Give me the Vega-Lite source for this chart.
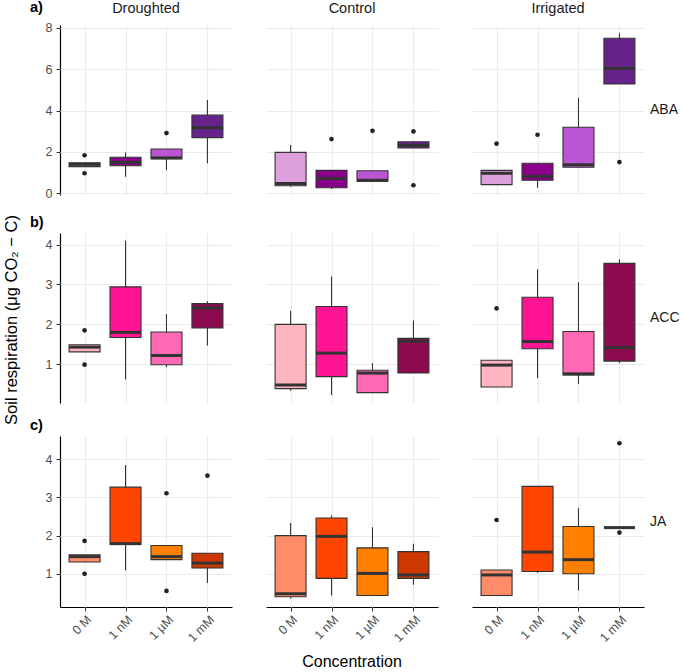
{
  "$schema": "https://vega.github.io/schema/vega-lite/v6.json",
  "padding": {"left": 3, "top": 0, "right": 0, "bottom": 1},
  "config": {
    "font": "Liberation Sans",
    "view": {"stroke": null},
    "axis": {"gridColor": "#ebebeb", "gridWidth": 1.1, "domainColor": "#000000", "tickColor": "#333333", "labelColor": "#4d4d4d", "labelFontSize": 12.5, "titleColor": "#000000", "titleFontSize": 16, "titleFontWeight": "normal"},
    "title": {"fontSize": 14.5, "fontWeight": "bold", "anchor": "start", "color": "#000000"}
  },
  "title": {"text": "Soil respiration (μg CO₂ − C)", "orient": "left", "anchor": "middle", "fontSize": 16.5, "fontWeight": "normal", "offset": 10, "dx": 15},
  "data": {"values": [
    {"hormone":"ABA","treatment":"Droughted","conc":"0 M","lower":1.29,"q1":1.29,"median":1.40,"q3":1.48,"upper":1.48},
    {"hormone":"ABA","treatment":"Droughted","conc":"0 M","outlier":1.84},
    {"hormone":"ABA","treatment":"Droughted","conc":"0 M","outlier":0.97},
    {"hormone":"ABA","treatment":"Droughted","conc":"1 nM","lower":0.80,"q1":1.33,"median":1.50,"q3":1.74,"upper":1.98},
    {"hormone":"ABA","treatment":"Droughted","conc":"1 µM","lower":1.11,"q1":1.67,"median":1.71,"q3":2.14,"upper":2.14},
    {"hormone":"ABA","treatment":"Droughted","conc":"1 µM","outlier":2.91},
    {"hormone":"ABA","treatment":"Droughted","conc":"1 mM","lower":1.45,"q1":2.69,"median":3.17,"q3":3.78,"upper":4.51},
    {"hormone":"ABA","treatment":"Control","conc":"0 M","lower":0.32,"q1":0.37,"median":0.48,"q3":1.98,"upper":2.33},
    {"hormone":"ABA","treatment":"Control","conc":"1 nM","lower":0.21,"q1":0.27,"median":0.72,"q3":1.11,"upper":1.11},
    {"hormone":"ABA","treatment":"Control","conc":"1 nM","outlier":2.62},
    {"hormone":"ABA","treatment":"Control","conc":"1 µM","lower":0.57,"q1":0.59,"median":0.63,"q3":1.09,"upper":1.09},
    {"hormone":"ABA","treatment":"Control","conc":"1 µM","outlier":3.02},
    {"hormone":"ABA","treatment":"Control","conc":"1 mM","lower":2.19,"q1":2.19,"median":2.32,"q3":2.49,"upper":2.49},
    {"hormone":"ABA","treatment":"Control","conc":"1 mM","outlier":2.99},
    {"hormone":"ABA","treatment":"Control","conc":"1 mM","outlier":0.39},
    {"hormone":"ABA","treatment":"Irrigated","conc":"0 M","lower":0.42,"q1":0.42,"median":0.97,"q3":1.11,"upper":1.11},
    {"hormone":"ABA","treatment":"Irrigated","conc":"0 M","outlier":2.40},
    {"hormone":"ABA","treatment":"Irrigated","conc":"1 nM","lower":0.27,"q1":0.63,"median":0.82,"q3":1.45,"upper":1.45},
    {"hormone":"ABA","treatment":"Irrigated","conc":"1 nM","outlier":2.83},
    {"hormone":"ABA","treatment":"Irrigated","conc":"1 µM","lower":1.26,"q1":1.26,"median":1.38,"q3":3.19,"upper":4.62},
    {"hormone":"ABA","treatment":"Irrigated","conc":"1 mM","lower":5.28,"q1":5.28,"median":6.04,"q3":7.49,"upper":7.73},
    {"hormone":"ABA","treatment":"Irrigated","conc":"1 mM","outlier":1.51},

    {"hormone":"ACC","treatment":"Droughted","conc":"0 M","lower":1.31,"q1":1.31,"median":1.43,"q3":1.49,"upper":1.49},
    {"hormone":"ACC","treatment":"Droughted","conc":"0 M","outlier":1.85},
    {"hormone":"ACC","treatment":"Droughted","conc":"0 M","outlier":0.99},
    {"hormone":"ACC","treatment":"Droughted","conc":"1 nM","lower":0.62,"q1":1.67,"median":1.80,"q3":2.94,"upper":4.10},
    {"hormone":"ACC","treatment":"Droughted","conc":"1 µM","lower":0.93,"q1":0.99,"median":1.22,"q3":1.81,"upper":2.26},
    {"hormone":"ACC","treatment":"Droughted","conc":"1 mM","lower":1.47,"q1":1.91,"median":2.41,"q3":2.52,"upper":2.58},
    {"hormone":"ACC","treatment":"Control","conc":"0 M","lower":0.34,"q1":0.39,"median":0.48,"q3":2.00,"upper":2.34},
    {"hormone":"ACC","treatment":"Control","conc":"1 nM","lower":0.23,"q1":0.69,"median":1.28,"q3":2.45,"upper":3.20},
    {"hormone":"ACC","treatment":"Control","conc":"1 µM","lower":0.29,"q1":0.29,"median":0.78,"q3":0.85,"upper":1.03},
    {"hormone":"ACC","treatment":"Control","conc":"1 mM","lower":0.78,"q1":0.78,"median":1.58,"q3":1.65,"upper":2.10},
    {"hormone":"ACC","treatment":"Irrigated","conc":"0 M","lower":0.43,"q1":0.43,"median":0.98,"q3":1.10,"upper":1.10},
    {"hormone":"ACC","treatment":"Irrigated","conc":"0 M","outlier":2.40},
    {"hormone":"ACC","treatment":"Irrigated","conc":"1 nM","lower":0.65,"q1":1.39,"median":1.57,"q3":2.68,"upper":3.38},
    {"hormone":"ACC","treatment":"Irrigated","conc":"1 µM","lower":0.51,"q1":0.73,"median":0.76,"q3":1.82,"upper":3.06},
    {"hormone":"ACC","treatment":"Irrigated","conc":"1 mM","lower":1.03,"q1":1.08,"median":1.42,"q3":3.53,"upper":3.63},

    {"hormone":"JA","treatment":"Droughted","conc":"0 M","lower":1.31,"q1":1.31,"median":1.45,"q3":1.50,"upper":1.50},
    {"hormone":"JA","treatment":"Droughted","conc":"0 M","outlier":1.86},
    {"hormone":"JA","treatment":"Droughted","conc":"0 M","outlier":1.00},
    {"hormone":"JA","treatment":"Droughted","conc":"1 nM","lower":1.09,"q1":1.77,"median":1.79,"q3":3.27,"upper":3.85},
    {"hormone":"JA","treatment":"Droughted","conc":"1 µM","lower":1.37,"q1":1.37,"median":1.45,"q3":1.74,"upper":1.74},
    {"hormone":"JA","treatment":"Droughted","conc":"1 µM","outlier":3.11},
    {"hormone":"JA","treatment":"Droughted","conc":"1 µM","outlier":0.55},
    {"hormone":"JA","treatment":"Droughted","conc":"1 mM","lower":0.76,"q1":1.15,"median":1.28,"q3":1.54,"upper":1.54},
    {"hormone":"JA","treatment":"Droughted","conc":"1 mM","outlier":3.57},
    {"hormone":"JA","treatment":"Control","conc":"0 M","lower":0.35,"q1":0.40,"median":0.48,"q3":2.00,"upper":2.33},
    {"hormone":"JA","treatment":"Control","conc":"1 nM","lower":0.43,"q1":0.88,"median":1.98,"q3":2.46,"upper":2.53},
    {"hormone":"JA","treatment":"Control","conc":"1 µM","lower":0.43,"q1":0.43,"median":1.01,"q3":1.68,"upper":2.22},
    {"hormone":"JA","treatment":"Control","conc":"1 mM","lower":0.71,"q1":0.88,"median":0.97,"q3":1.58,"upper":1.79},
    {"hormone":"JA","treatment":"Irrigated","conc":"0 M","lower":0.43,"q1":0.43,"median":0.97,"q3":1.10,"upper":1.10},
    {"hormone":"JA","treatment":"Irrigated","conc":"0 M","outlier":2.41},
    {"hormone":"JA","treatment":"Irrigated","conc":"1 nM","lower":1.02,"q1":1.06,"median":1.57,"q3":3.29,"upper":3.30},
    {"hormone":"JA","treatment":"Irrigated","conc":"1 µM","lower":0.56,"q1":1.00,"median":1.37,"q3":2.24,"upper":2.72},
    {"hormone":"JA","treatment":"Irrigated","conc":"1 mM","lower":2.21,"q1":2.21,"median":2.21,"q3":2.21,"upper":2.21},
    {"hormone":"JA","treatment":"Irrigated","conc":"1 mM","outlier":4.42},
    {"hormone":"JA","treatment":"Irrigated","conc":"1 mM","outlier":2.08}
  ]},
  "resolve": {"scale": {"x": "independent", "y": "independent", "color": "independent", "fill": "independent"}},
  "spacing": 14,
  "vconcat": [
    {
      "transform": [{"filter": "datum.hormone === 'ABA'"}],
      "title": {"text": "a)", "frame": "group", "dx": -30, "offset": -15},
      "facet": {
        "row": {"field": "hormone", "type": "nominal", "header": {"title": null, "labelOrient": "right", "labelAngle": 0, "labelFontSize": 14, "labelColor": "#1a1a1a", "labelPadding": 6}},
        "column": {"field": "treatment", "type": "nominal", "sort": ["Droughted", "Control", "Irrigated"], "header": {"title": null, "labelFontSize": 14.5, "labelColor": "#1a1a1a", "labelPadding": 9}}
      },
      "spacing": {"column": 34, "row": 0},
      "spec": {
        "width": 172, "height": 170,
        "encoding": {"x": {"field": "conc", "type": "nominal", "scale": {"type": "point", "domain": ["0 M", "1 nM", "1 µM", "1 mM"], "padding": 0.6}, "axis": {"labels": false, "ticks": false, "domain": false, "title": null, "grid": true, "minExtent": 0, "maxExtent": 0}}},
        "layer": [
          {"transform": [{"filter": "datum.q1 != null"}], "mark": {"type": "rule", "color": "#333333", "strokeWidth": 1.1},
           "encoding": {"y": {"field": "lower", "type": "quantitative", "scale": {"domain": [-0.08, 8.13], "nice": false, "zero": false}, "axis": {"values": [0, 2, 4, 6, 8], "tickSize": 4, "labelPadding": 4, "domainWidth": 1.2, "title": null, "minExtent": 20, "maxExtent": 20}}, "y2": {"field": "upper"}}},
          {"transform": [{"filter": "datum.q1 != null"}], "mark": {"type": "bar", "size": 31, "stroke": "#333333", "strokeWidth": 1.1},
           "encoding": {"y": {"field": "q1", "type": "quantitative", "scale": {"domain": [-0.08, 8.13], "nice": false, "zero": false}, "axis": {"values": [0, 2, 4, 6, 8], "tickSize": 4, "labelPadding": 4, "domainWidth": 1.2, "title": null, "minExtent": 20, "maxExtent": 20}}, "y2": {"field": "q3"},
             "fill": {"field": "conc", "type": "nominal", "scale": {"domain": ["0 M", "1 nM", "1 µM", "1 mM"], "range": ["#DDA0DD", "#8B008B", "#BA55D3", "#68228B"]}, "legend": null}}},
          {"transform": [{"filter": "datum.q1 != null"}], "mark": {"type": "tick", "size": 31, "thickness": 3, "color": "#333333", "opacity": 1},
           "encoding": {"y": {"field": "median", "type": "quantitative", "scale": {"domain": [-0.08, 8.13], "nice": false, "zero": false}, "axis": {"values": [0, 2, 4, 6, 8], "tickSize": 4, "labelPadding": 4, "domainWidth": 1.2, "title": null, "minExtent": 20, "maxExtent": 20}}}},
          {"transform": [{"filter": "datum.outlier != null"}], "mark": {"type": "point", "filled": true, "size": 22, "color": "#222222", "opacity": 1},
           "encoding": {"y": {"field": "outlier", "type": "quantitative", "scale": {"domain": [-0.08, 8.13], "nice": false, "zero": false}, "axis": {"values": [0, 2, 4, 6, 8], "tickSize": 4, "labelPadding": 4, "domainWidth": 1.2, "title": null, "minExtent": 20, "maxExtent": 20}}}}
        ]
      }
    },
    {
      "transform": [{"filter": "datum.hormone === 'ACC'"}],
      "title": {"text": "b)", "frame": "group", "dx": -30, "offset": 3},
      "facet": {
        "row": {"field": "hormone", "type": "nominal", "header": {"title": null, "labelOrient": "right", "labelAngle": 0, "labelFontSize": 14, "labelColor": "#1a1a1a", "labelPadding": 6}},
        "column": {"field": "treatment", "type": "nominal", "sort": ["Droughted", "Control", "Irrigated"], "header": {"title": null, "labels": false}}
      },
      "spacing": {"column": 34, "row": 0},
      "spec": {
        "width": 172, "height": 170,
        "encoding": {"x": {"field": "conc", "type": "nominal", "scale": {"type": "point", "domain": ["0 M", "1 nM", "1 µM", "1 mM"], "padding": 0.6}, "axis": {"labels": false, "ticks": false, "domain": false, "title": null, "grid": true, "minExtent": 0, "maxExtent": 0}}},
        "layer": [
          {"transform": [{"filter": "datum.q1 != null"}], "mark": {"type": "rule", "color": "#333333", "strokeWidth": 1.1},
           "encoding": {"y": {"field": "lower", "type": "quantitative", "scale": {"domain": [0.03, 4.29], "nice": false, "zero": false}, "axis": {"values": [1, 2, 3, 4], "tickSize": 4, "labelPadding": 4, "domainWidth": 1.2, "title": null, "minExtent": 20, "maxExtent": 20}}, "y2": {"field": "upper"}}},
          {"transform": [{"filter": "datum.q1 != null"}], "mark": {"type": "bar", "size": 31, "stroke": "#333333", "strokeWidth": 1.1},
           "encoding": {"y": {"field": "q1", "type": "quantitative", "scale": {"domain": [0.03, 4.29], "nice": false, "zero": false}, "axis": {"values": [1, 2, 3, 4], "tickSize": 4, "labelPadding": 4, "domainWidth": 1.2, "title": null, "minExtent": 20, "maxExtent": 20}}, "y2": {"field": "q3"},
             "fill": {"field": "conc", "type": "nominal", "scale": {"domain": ["0 M", "1 nM", "1 µM", "1 mM"], "range": ["#FFB6C1", "#FF1493", "#FF69B4", "#8B0A50"]}, "legend": null}}},
          {"transform": [{"filter": "datum.q1 != null"}], "mark": {"type": "tick", "size": 31, "thickness": 3, "color": "#333333", "opacity": 1},
           "encoding": {"y": {"field": "median", "type": "quantitative", "scale": {"domain": [0.03, 4.29], "nice": false, "zero": false}, "axis": {"values": [1, 2, 3, 4], "tickSize": 4, "labelPadding": 4, "domainWidth": 1.2, "title": null, "minExtent": 20, "maxExtent": 20}}}},
          {"transform": [{"filter": "datum.outlier != null"}], "mark": {"type": "point", "filled": true, "size": 22, "color": "#222222", "opacity": 1},
           "encoding": {"y": {"field": "outlier", "type": "quantitative", "scale": {"domain": [0.03, 4.29], "nice": false, "zero": false}, "axis": {"values": [1, 2, 3, 4], "tickSize": 4, "labelPadding": 4, "domainWidth": 1.2, "title": null, "minExtent": 20, "maxExtent": 20}}}}
        ]
      }
    },
    {
      "transform": [{"filter": "datum.hormone === 'JA'"}],
      "title": {"text": "c)", "frame": "group", "dx": -30, "offset": 3},
      "facet": {
        "row": {"field": "hormone", "type": "nominal", "header": {"title": null, "labelOrient": "right", "labelAngle": 0, "labelFontSize": 14, "labelColor": "#1a1a1a", "labelPadding": 6}},
        "column": {"field": "treatment", "type": "nominal", "sort": ["Droughted", "Control", "Irrigated"], "header": {"labels": false, "title": "Concentration", "titleOrient": "bottom", "titleFontSize": 16, "titleFontWeight": "normal", "titleColor": "#000000", "titlePadding": 0}}
      },
      "spacing": {"column": 34, "row": 0},
      "spec": {
        "width": 172, "height": 171,
        "encoding": {"x": {"field": "conc", "type": "nominal", "scale": {"type": "point", "domain": ["0 M", "1 nM", "1 µM", "1 mM"], "padding": 0.6}, "axis": {"labelAngle": -45, "labelFontSize": 12.5, "tickSize": 4, "labelPadding": 2, "domainWidth": 1.2, "title": null, "grid": true}}},
        "layer": [
          {"transform": [{"filter": "datum.q1 != null"}], "mark": {"type": "rule", "color": "#333333", "strokeWidth": 1.1},
           "encoding": {"y": {"field": "lower", "type": "quantitative", "scale": {"domain": [0.13, 4.61], "nice": false, "zero": false}, "axis": {"values": [1, 2, 3, 4], "tickSize": 4, "labelPadding": 4, "domainWidth": 1.2, "title": null, "minExtent": 20, "maxExtent": 20}}, "y2": {"field": "upper"}}},
          {"transform": [{"filter": "datum.q1 != null"}], "mark": {"type": "bar", "size": 31, "stroke": "#333333", "strokeWidth": 1.1},
           "encoding": {"y": {"field": "q1", "type": "quantitative", "scale": {"domain": [0.13, 4.61], "nice": false, "zero": false}, "axis": {"values": [1, 2, 3, 4], "tickSize": 4, "labelPadding": 4, "domainWidth": 1.2, "title": null, "minExtent": 20, "maxExtent": 20}}, "y2": {"field": "q3"},
             "fill": {"field": "conc", "type": "nominal", "scale": {"domain": ["0 M", "1 nM", "1 µM", "1 mM"], "range": ["#FF8C69", "#FF4500", "#FF7F00", "#CD3700"]}, "legend": null}}},
          {"transform": [{"filter": "datum.q1 != null"}], "mark": {"type": "tick", "size": 31, "thickness": 3, "color": "#333333", "opacity": 1},
           "encoding": {"y": {"field": "median", "type": "quantitative", "scale": {"domain": [0.13, 4.61], "nice": false, "zero": false}, "axis": {"values": [1, 2, 3, 4], "tickSize": 4, "labelPadding": 4, "domainWidth": 1.2, "title": null, "minExtent": 20, "maxExtent": 20}}}},
          {"transform": [{"filter": "datum.outlier != null"}], "mark": {"type": "point", "filled": true, "size": 22, "color": "#222222", "opacity": 1},
           "encoding": {"y": {"field": "outlier", "type": "quantitative", "scale": {"domain": [0.13, 4.61], "nice": false, "zero": false}, "axis": {"values": [1, 2, 3, 4], "tickSize": 4, "labelPadding": 4, "domainWidth": 1.2, "title": null, "minExtent": 20, "maxExtent": 20}}}}
        ]
      }
    }
  ]
}
